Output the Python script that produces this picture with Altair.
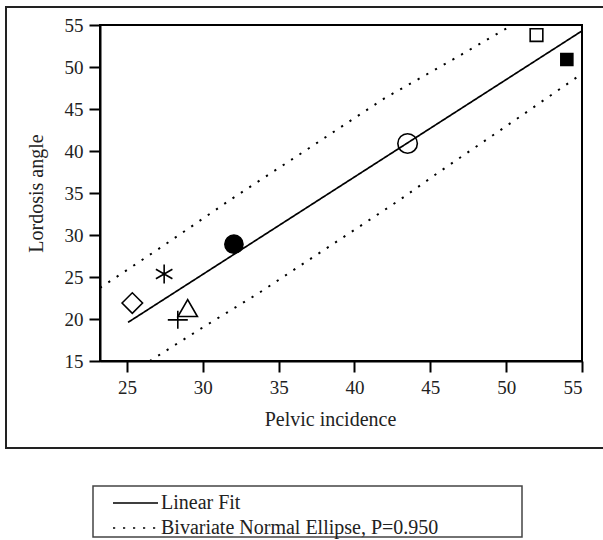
import altair as alt
import pandas as pd

# ---- data ----
point_ids = ["open square", "filled square", "open circle", "filled circle",
             "asterisk", "diamond", "triangle", "plus"]
pelvic = [52.0, 54.0, 43.5, 32.05, 27.45, 25.35, 29.0, 28.35]
lordosis = [53.8, 50.9, 40.9, 28.9, 25.35, 21.9, 21.3, 19.9]

fit_x = [25.07, 55.0]
fit_y = [19.6, 54.3]

upper_x = [23.22, 27.3, 31.9, 36.3, 42.0, 46.5, 50.4]
upper_y = [23.7, 28.6, 34.3, 39.5, 46.3, 50.9, 55.0]

lower_x = [26.5, 30.0, 33.7, 43.0, 45.5, 50.6, 55.0]
lower_y = [15.0, 19.0, 23.1, 34.2, 37.4, 43.7, 49.2]

x_ticks = [25, 30, 35, 40, 45, 50, 55]
y_ticks = [15, 20, 25, 30, 35, 40, 45, 50, 55]

FIT = "Linear Fit"
ELL = "Bivariate Normal Ellipse, P=0.950"

# ---- tables ----
pts = pd.DataFrame({"id": point_ids, "x": pelvic, "y": lordosis})
fit_df = pd.DataFrame({"x": fit_x, "y": fit_y, "series": FIT, "grp": "fit"})
ell_df = pd.concat([
    pd.DataFrame({"x": upper_x, "y": upper_y, "series": ELL, "grp": "upper"}),
    pd.DataFrame({"x": lower_x, "y": lower_y, "series": ELL, "grp": "lower"}),
], ignore_index=True)
ell_df["order"] = range(len(ell_df))
fit_df["order"] = range(len(fit_df))

SERIF = "Liberation Serif"

xs = alt.Scale(domain=[23.22, 55], nice=False, zero=False)
ys = alt.Scale(domain=[15, 55], nice=False, zero=False)

xax = alt.Axis(values=x_ticks, title="Pelvic incidence", titlePadding=12, titleX=230)
yax = alt.Axis(values=y_ticks, title="Lordosis  angle", titlePadding=18)

dash = alt.StrokeDash(
    "series:N",
    scale=alt.Scale(domain=[FIT, ELL], range=[[1, 0], [2.2, 7.8]]),
    legend=alt.Legend(title=None, orient="none", legendX=25.5, legendY=468,
                      symbolType="M-2.5,0L2.5,0", symbolSize=324,
                      symbolStrokeWidth=1.5, symbolStrokeColor="black",
                      symbolFillColor="transparent", labelLimit=0,
                      labelFont=SERIF, labelFontSize=20, labelColor="#222",
                      labelOffset=15.5, rowPadding=5, padding=0),
)

fit_layer = alt.Chart(fit_df).mark_line(color="black", strokeWidth=1.7, clip=True).encode(
    x=alt.X("x:Q", scale=xs, axis=xax),
    y=alt.Y("y:Q", scale=ys, axis=yax),
    detail="grp:N", order="order:Q", strokeDash=dash,
)
ell_layer = alt.Chart(ell_df).mark_line(color="black", strokeWidth=2, clip=True).encode(
    x=alt.X("x:Q", scale=xs),
    y=alt.Y("y:Q", scale=ys),
    detail="grp:N", order="order:Q", strokeDash=dash,
)

# marker style per point: (shape, size, filled)
styles = {
    "open square": ("square", 160, False),
    "filled square": ("square", 144, True),
    "open circle": ("circle", 380, False),
    "filled circle": ("circle", 330, True),
    "asterisk": ("M0,-1L0,1M-0.87,-0.5L0.87,0.5M-0.87,0.5L0.87,-0.5", 360, False),
    "diamond": ("diamond", 420, False),
    "triangle": ("triangle-up", 380, False),
    "plus": ("M-1,0L1,0M0,-0.9L0,0.9", 400, False),
}

point_layers = []
for pid in point_ids:
    shp, sz, filled = styles[pid]
    kw = dict(shape=shp, size=sz, opacity=1, strokeWidth=1.6)
    if filled:
        kw.update(filled=True, color="black", stroke="black")
    else:
        kw.update(filled=False, color="black", fill="transparent")
    point_layers.append(
        alt.Chart(pts).transform_filter(alt.datum.id == pid).mark_point(**kw).encode(
            x=alt.X("x:Q", scale=xs), y=alt.Y("y:Q", scale=ys)
        )
    )

one = alt.Data(values=[{"a": 1}])
outer_frame = alt.Chart(one).mark_rect(fill="transparent", stroke="#222", strokeWidth=2).encode(
    x=alt.value(-94), x2=alt.value(506), y=alt.value(-18), y2=alt.value(423)
)
legend_box = alt.Chart(one).mark_rect(fill="transparent", stroke="#444", strokeWidth=1.5).encode(
    x=alt.value(-7), x2=alt.value(422), y=alt.value(461), y2=alt.value(512)
)

chart = alt.layer(outer_frame, legend_box, fit_layer, ell_layer, *point_layers).properties(
    width=482, height=336,
    autosize=alt.AutoSizeParams(type="none"),
    padding={"left": 100, "top": 25, "right": 21, "bottom": 179},
    background="white",
).configure_view(
    stroke="black", strokeWidth=2
).configure_axis(
    grid=False, domainColor="black", domainWidth=2, tickColor="black",
    tickWidth=2, tickSize=11, labelFont=SERIF, labelFontSize=19,
    labelColor="#222", labelPadding=6, titleFont=SERIF, titleFontSize=20,
    titleFontWeight="normal", titleColor="#222"
)

chart.save("out.html", embed_options={"renderer": "svg", "actions": False})
